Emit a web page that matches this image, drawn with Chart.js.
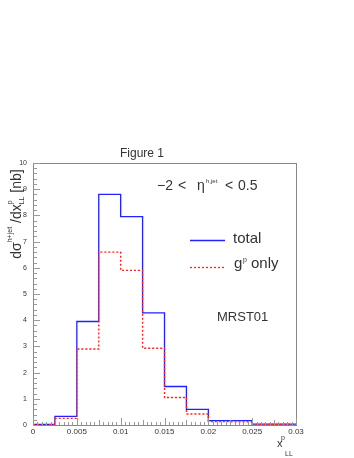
<!DOCTYPE html>
<html>
<head>
<meta charset="utf-8">
<script src="https://cdn.jsdelivr.net/npm/chart.js@4.4.0/dist/chart.umd.min.js"></script>
<style>
  html, body { margin: 0; padding: 0; background: #fff; }
  #wrap { width: 354px; height: 458px; position: relative; }
</style>
</head>
<body>
<div id="wrap"><canvas id="chart" width="354" height="458"></canvas></div>
<script>
// bin edges (last entry closes the final bin)
const binEdges = [0, 0.0025, 0.005, 0.0075, 0.01, 0.0125, 0.015, 0.0175, 0.02, 0.0225, 0.025, 0.0275, 0.03];
const totalValues = [0.02, 0.33, 3.95, 8.8, 7.95, 4.28, 1.47, 0.6, 0.17, 0.17, 0.03, 0.03];
const gluonValues = [0.01, 0.25, 2.9, 6.6, 5.9, 2.93, 1.05, 0.42, 0.13, 0.12, 0.02, 0.02];
const xTickLabels = ['0', '0.005', '0.01', '0.015', '0.02', '0.025', '0.03'];
const yTickLabels = ['0', '1', '2', '3', '4', '5', '6', '7', '8', '9', '10'];

// a point at each bin's left edge, plus one closing the last bin
function histPoints(vals) {
    let pts = vals.map((v, i) => ({ x: binEdges[i], y: v }));
    pts.push({ x: binEdges[binEdges.length - 1], y: vals[vals.length - 1] });
    return pts;
}

const FONT = 'Liberation Sans, Arial, sans-serif';

const decorPlugin = {
    id: 'decor',
    afterDraw(chart) {
        const ctx = chart.ctx;
        const a = chart.chartArea;
        const xs = chart.scales.x, ys = chart.scales.y;
        ctx.save();

        // frame
        ctx.strokeStyle = '#888';
        ctx.lineWidth = 1;
        ctx.strokeRect(a.left + 0.5, a.top + 0.5, a.right - a.left, a.bottom - a.top);

        // y ticks: major every 1, minor every 0.2
        ctx.strokeStyle = '#999';
        for (let k = 0; k <= 50; k++) {
            const y = Math.round(ys.getPixelForValue(k * 0.2)) + 0.5;
            const len = (k % 5 === 0) ? 7 : 4;
            ctx.beginPath();
            ctx.moveTo(a.left, y);
            ctx.lineTo(a.left + len, y);
            ctx.stroke();
        }
        // x ticks: major every 0.005, minor every 0.0005
        for (let k = 0; k <= 60; k++) {
            const x = Math.round(xs.getPixelForValue(k * 0.0005)) + 0.5;
            const len = (k % 10 === 0) ? 7 : (k % 5 === 0 ? 5 : 3);
            ctx.beginPath();
            ctx.moveTo(x, a.bottom);
            ctx.lineTo(x, a.bottom - len);
            ctx.stroke();
        }

        ctx.fillStyle = '#333';
        ctx.textBaseline = 'alphabetic';

        // title
        ctx.font = '12px ' + FONT;
        ctx.textAlign = 'center';
        ctx.fillText('Figure 1', 142, 157);
        ctx.textAlign = 'left';

        // eta range
        ctx.font = '14px ' + FONT;
        ctx.fillText('\u22122', 157, 190);
        ctx.fillText('<', 178, 190);
        ctx.font = '14px ' + FONT;
        ctx.fillText('\u03B7', 197, 190);
        ctx.font = '6px ' + FONT;
        ctx.fillText('h,jet', 206, 183);
        ctx.font = '14px ' + FONT;
        ctx.fillText('<', 225, 190);
        ctx.fillText('0.5', 238, 190);

        // legend
        ctx.lineWidth = 1.3;
        ctx.strokeStyle = '#2222ff';
        ctx.beginPath(); ctx.moveTo(190, 240.5); ctx.lineTo(225, 240.5); ctx.stroke();
        ctx.strokeStyle = '#ff2020';
        ctx.setLineDash([2, 2]);
        ctx.beginPath(); ctx.moveTo(190, 267.5); ctx.lineTo(225, 267.5); ctx.stroke();
        ctx.setLineDash([]);
        ctx.font = '15px ' + FONT;
        ctx.fillText('total', 233, 243);
        ctx.fillText('g', 234, 268);
        ctx.font = '7px ' + FONT;
        ctx.fillText('p', 243, 262);
        ctx.font = '15px ' + FONT;
        ctx.fillText('only', 251, 268);

        // MRST01
        ctx.font = '13px ' + FONT;
        ctx.fillText('MRST01', 217, 321);

        // x axis title
        ctx.font = '11px ' + FONT;
        ctx.fillText('x', 277, 447);
        ctx.font = '7px ' + FONT;
        ctx.fillText('p', 281, 440);
        ctx.fillText('LL', 285, 456);

        // y axis title (rotated)
        ctx.translate(21, 214);
        ctx.rotate(-Math.PI / 2);
        const parts = [
            { t: 'd\u03C3', f: 14, dy: 0 },
            { t: 'h+jet', f: 7, dy: -9 },
            { t: ' /dx', f: 14, dy: 0 },
            { t: 'p', f: 7, dy: -9, keep: true },
            { t: 'LL', f: 7, dy: 3 },
            { t: ' [nb]', f: 14, dy: 0 }
        ];
        let total = 0;
        parts.forEach(p => { ctx.font = p.f + 'px ' + FONT; if (!p.keep) total += ctx.measureText(p.t).width; });
        let cx = -total / 2;
        parts.forEach(p => {
            ctx.font = p.f + 'px ' + FONT;
            ctx.fillText(p.t, cx, p.dy);
            if (!p.keep) cx += ctx.measureText(p.t).width;
        });

        ctx.restore();
    }
};

new Chart(document.getElementById('chart'), {
    type: 'line',
    data: {
        datasets: [
            {
                label: 'g^p only',
                data: histPoints(gluonValues),
                stepped: 'before',
                borderColor: '#ff2020',
                borderWidth: 1.3,
                borderDash: [2, 2],
                pointRadius: 0,
                fill: false
            },
            {
                label: 'total',
                data: histPoints(totalValues),
                stepped: 'before',
                borderColor: '#2222ff',
                borderWidth: 1.3,
                pointRadius: 0,
                fill: false
            }
        ]
    },
    options: {
        responsive: false,
        animation: false,
        layout: { padding: { left: 0, top: 163, right: 58, bottom: 0 } },
        plugins: { legend: { display: false }, tooltip: { enabled: false }, title: { display: false } },
        scales: {
            x: {
                type: 'linear',
                min: 0,
                max: 0.03,
                border: { display: false },
                grid: { display: false, drawTicks: false },
                ticks: {
                    stepSize: 0.005,
                    padding: 2,
                    color: '#333',
                    font: { size: 8, family: FONT },
                    maxRotation: 0,
                    callback: (v, i) => xTickLabels[i]
                },
                afterFit: s => { s.height = 33; }
            },
            y: {
                min: 0,
                max: 10,
                border: { display: false },
                grid: { display: false, drawTicks: false },
                ticks: {
                    stepSize: 1,
                    padding: 6,
                    color: '#333',
                    font: { size: 7, family: FONT },
                    callback: (v, i) => yTickLabels[i]
                },
                afterFit: s => { s.width = 33; }
            }
        }
    },
    plugins: [decorPlugin]
});
</script>
</body>
</html>
